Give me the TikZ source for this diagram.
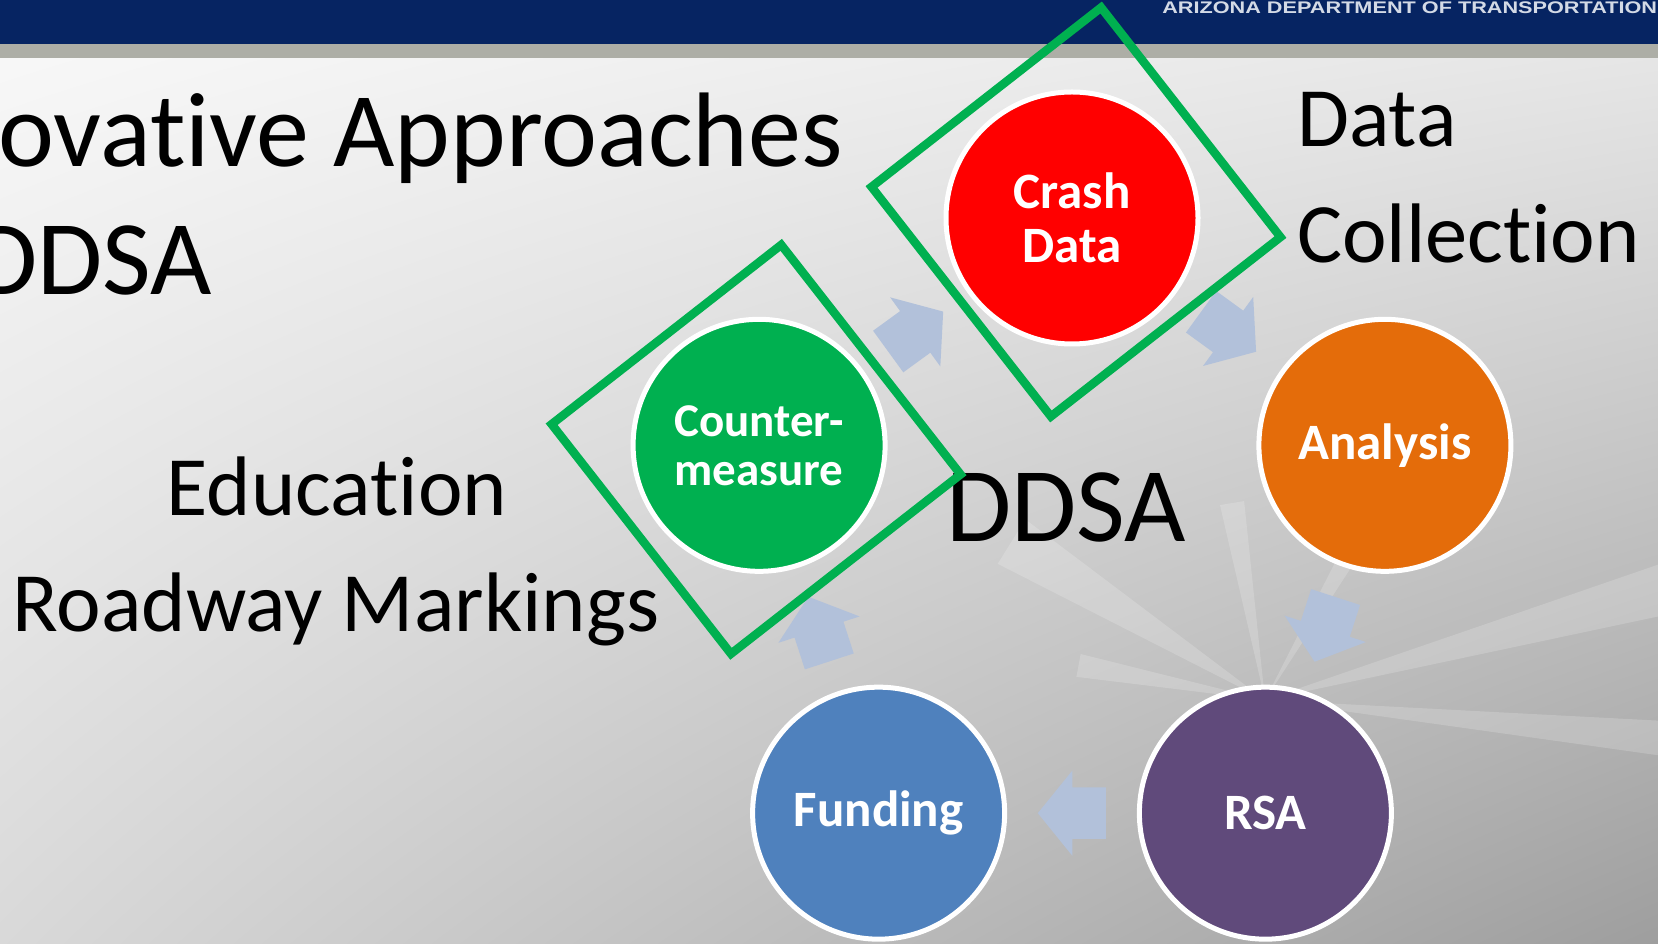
\documentclass[tikz,border=0pt]{standalone}
\usepackage{fontspec}
\setmainfont{Carlito}[Ligatures=NoCommon, Contextuals=NoAlternate]
\newfontfamily\bannerfont{Liberation Sans}
\usetikzlibrary{positioning}
\usetikzlibrary{calc}
\usetikzlibrary{shadings}
\usetikzlibrary{shapes.arrows}
\usepackage{xcolor}

\definecolor{adotblue}{HTML}{062462}
\definecolor{bandgray}{HTML}{ADAEA6}
\definecolor{crashred}{HTML}{FF0000}
\definecolor{analysisorange}{HTML}{E46C0A}
\definecolor{rsapurple}{HTML}{604A7B}
\definecolor{fundingblue}{HTML}{4F81BD}
\definecolor{measuregreen}{HTML}{00B050}
\definecolor{arrowblue}{HTML}{B2C1DA}
\definecolor{bannertext}{HTML}{D3DAE6}

\begin{document}
\begin{tikzpicture}[x=1pt, y=1pt,
  stage/.style={circle, draw=white, line width=5pt, minimum size=252pt, inner sep=0pt,
    text=white, align=center, font=\bfseries\fontsize{51}{54.5}\selectfont},
  cyclearrow/.style={single arrow, fill=arrowblue, draw=none, inner xsep=0pt, inner ysep=25.5pt,
    minimum height=68pt, single arrow head extend=17pt,
    single arrow tip angle=102, sloped, allow upside down, pos=0.412, anchor=tail},
  slidetext/.style={text=black, inner sep=0pt, font=\fontsize{84.5}{90}\selectfont},
  headline/.style={text=black, inner sep=0pt, font=\fontsize{106}{110}\selectfont},
  ray/.style={fill=white, opacity=0.18},
  frame/.style={draw=measuregreen, line width=8.5pt, line join=miter}
]

\useasboundingbox (0,0) rectangle (1658,943);

% slide background and header band
\shade[upper left=white!97!black, upper right=white!90!black,
  lower left=white!85!black, lower right=white!62!black] (0,0) rectangle (1658,885);
\coordinate (burst) at (1265,243);
\fill[ray] (burst) -- ($(burst)+(143:300)$) -- ($(burst)+(153:300)$) -- cycle;
\fill[ray] (burst) -- ($(burst)+(96:200)$) -- ($(burst)+(103:200)$) -- cycle;
\fill[ray] (burst) -- ($(burst)+(57:380)$) -- ($(burst)+(63:380)$) -- cycle;
\fill[ray] (burst) -- ($(burst)+(12:420)$) -- ($(burst)+(19:420)$) -- cycle;
\fill[ray] (burst) -- ($(burst)+(166:190)$) -- ($(burst)+(173:190)$) -- cycle;
\fill[ray] (burst) -- ($(burst)+(-8:420)$) -- ($(burst)+(-3:420)$) -- cycle;
\fill[bandgray] (0,885) rectangle (1658,899);
\fill[adotblue] (0,899) rectangle (1658,943);
\node[anchor=base west, inner sep=0pt, text=bannertext, xscale=1.29,
  font=\bannerfont\bfseries\fontsize{16.8}{18}\selectfont] (banner) at (1162,929.5)
  {ARIZONA DEPARTMENT OF TRANSPORTATION};

% title
\node[headline, anchor=base east] (title) at (843,776) {ovative Approaches};
\node[headline, anchor=base east] (subtitle) at (212,648) {DDSA};

% the cycle
\coordinate (hub) at (1072,396);
\node[stage, fill=crashred] (crash) at ($(hub)+(90:329)$) {Crash\\Data};
\node[stage, fill=analysisorange] (analysis) at ($(hub)+(18:329)$) {Analysis};
\node[stage, fill=rsapurple] (rsa) at ($(hub)+(-54:329)$) {RSA};
\node[stage, fill=fundingblue] (funding) at ($(hub)+(-126:329)$) {Funding};
\node[stage, fill=measuregreen, font=\bfseries\fontsize{47}{49}\selectfont] (measure) at ($(hub)+(162:329)$) {Counter-\\measure};

\path (measure.center) -- node[cyclearrow] (arrowa) {} (crash.center);
\path (crash.center) -- node[cyclearrow] (arrowb) {} (analysis.center);
\path (analysis.center) -- node[cyclearrow] (arrowc) {} (rsa.center);
\path (rsa.center) -- node[cyclearrow] (arrowd) {} (funding.center);
\path (funding.center) -- node[cyclearrow] (arrowe) {} (measure.center);

\node[headline, anchor=base] (ddsa) at (1066,401) {DDSA};

% side notes
\node[slidetext, anchor=base west] (datalbl) at (1297,796) {Data};
\node[slidetext, anchor=base west] (collectlbl) at (1297,680) {Collection};
\node[slidetext, anchor=base] (edulbl) at (337,427) {Education};
\node[slidetext, anchor=base] (roadlbl) at (336,311) {Roadway Markings};

% green frames
\draw[frame, shift={($(crash)+(4,6)$)}] (83:206) -- (-7:206) -- (-97:206) -- (173:206) -- cycle;
\draw[frame, shift={($(measure)+(-3,-4)$)}] (83:206) -- (-7:206) -- (-97:206) -- (173:206) -- cycle;

\end{tikzpicture}
\end{document}
